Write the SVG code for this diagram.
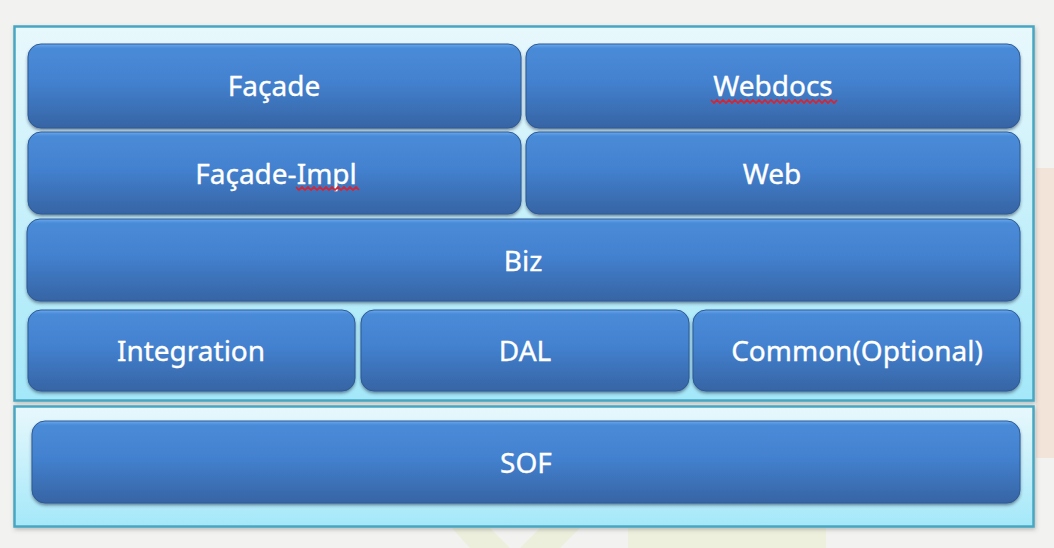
<svg xmlns="http://www.w3.org/2000/svg" width="1054" height="548" viewBox="0 0 1054 548">
  <defs>
    <linearGradient id="boxGrad" x1="0" y1="0" x2="0" y2="1">
      <stop offset="0" stop-color="#6aa8ec"/>
      <stop offset="0.05" stop-color="#4a8bd8"/>
      <stop offset="0.45" stop-color="#4381cf"/>
      <stop offset="1" stop-color="#3664a4"/>
    </linearGradient>
    <linearGradient id="panelGrad" x1="0" y1="0" x2="0" y2="1">
      <stop offset="0" stop-color="#e8f8fc"/>
      <stop offset="1" stop-color="#a4e8f9"/>
    </linearGradient>
    <filter id="boxShadow" x="-5%" y="-10%" width="110%" height="130%">
      <feDropShadow dx="0" dy="2" stdDeviation="1.5" flood-color="#1a2a40" flood-opacity="0.5"/>
    </filter>
    <filter id="panelShadow" x="-5%" y="-10%" width="110%" height="130%">
      <feDropShadow dx="1" dy="2" stdDeviation="2" flood-color="#555" flood-opacity="0.35"/>
    </filter>
  </defs>
  <style>
    .panel { fill: url(#panelGrad); stroke: #47a7c2; stroke-width: 2.5; filter: url(#panelShadow); }
    .box { fill: url(#boxGrad); stroke: #2c5a96; stroke-width: 1; filter: url(#boxShadow); }
    .label { font-family: "Noto Sans", "Open Sans", sans-serif; font-size: 28px; fill: #ffffff; stroke: #ffffff; stroke-width: 0.35; text-anchor: middle; }
    .squiggle { fill: none; stroke: #e0202a; stroke-width: 1.6; }
  </style>

  <!-- background -->
  <rect x="0" y="0" width="1054" height="548" fill="#f2f2f0"/>
  <rect x="1036" y="168" width="18" height="290" fill="#f3e4da"/>
  <polygon points="452,528 470,548 510,548 490,528" fill="#ecefdc"/>
  <polygon points="540,528 520,548 560,548 580,528" fill="#ecefdc"/>
  <rect x="628" y="528" width="198" height="20" fill="#eef0de"/>

  <!-- panels -->
  <g id="panel-app">
    <rect class="panel" x="14.5" y="26.5" width="1019" height="374"/>
  </g>
  <g id="panel-sof">
    <rect class="panel" x="14.5" y="406.5" width="1019" height="120"/>
  </g>

  <g id="node-facade">
    <rect class="box" x="28" y="44" width="493" height="84" rx="13"/>
    <text class="label" x="274" y="96">Façade</text>
  </g>
  <g id="node-webdocs">
    <rect class="box" x="526" y="44" width="494" height="84" rx="13"/>
    <text class="label" x="773" y="96">Webdocs</text>
    <path class="squiggle" d="M711,100 l3,3 l3,-3 l3,3 l3,-3 l3,3 l3,-3 l3,3 l3,-3 l3,3 l3,-3 l3,3 l3,-3 l3,3 l3,-3 l3,3 l3,-3 l3,3 l3,-3 l3,3 l3,-3 l3,3 l3,-3 l3,3 l3,-3 l3,3 l3,-3 l3,3 l3,-3 l3,3 l3,-3 l3,3 l3,-3 l3,3 l3,-3 l3,3 l3,-3 l3,3 l3,-3 l3,3 l3,-3 l3,3 l3,-3"/>
  </g>
  <g id="node-facade-impl">
    <rect class="box" x="28" y="132" width="493" height="82" rx="13"/>
    <text class="label" x="276" y="184">Façade-Impl</text>
    <path class="squiggle" d="M296,187 l3,3 l3,-3 l3,3 l3,-3 l3,3 l3,-3 l3,3 l3,-3 l3,3 l3,-3 l3,3 l3,-3 l3,3 l3,-3 l3,3 l3,-3 l3,3 l3,-3 l3,3 l3,-3 l3,3"/>
  </g>
  <g id="node-web">
    <rect class="box" x="526" y="132" width="494" height="82" rx="13"/>
    <text class="label" x="772" y="184">Web</text>
  </g>
  <g id="node-biz">
    <rect class="box" x="27" y="219" width="993" height="82" rx="13"/>
    <text class="label" x="523" y="271">Biz</text>
  </g>
  <g id="node-integration">
    <rect class="box" x="28" y="310" width="327" height="81" rx="13"/>
    <text class="label" x="191" y="361">Integration</text>
  </g>
  <g id="node-dal">
    <rect class="box" x="361" y="310" width="328" height="81" rx="13"/>
    <text class="label" x="525" y="361">DAL</text>
  </g>
  <g id="node-common">
    <rect class="box" x="693" y="310" width="327" height="81" rx="13"/>
    <text class="label" x="857" y="361">Common(Optional)</text>
  </g>
  <g id="node-sof">
    <rect class="box" x="32" y="421" width="988" height="82" rx="13"/>
    <text class="label" x="526" y="473">SOF</text>
  </g>

  <g id="connectors"></g>
</svg>
